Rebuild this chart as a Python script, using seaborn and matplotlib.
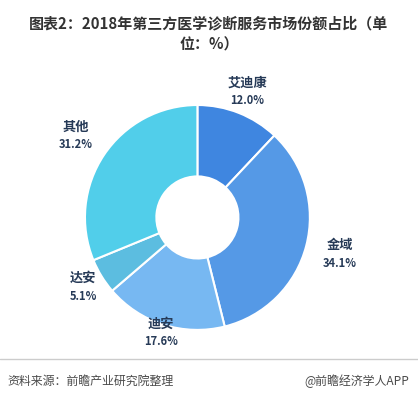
import numpy as np
import matplotlib.pyplot as plt
import seaborn as sns
from matplotlib.lines import Line2D

# --- datos ---
companias = ['艾迪康', '金域', '迪安', '达安', '其他']
cuota = [12.0, 34.1, 17.6, 5.1, 31.2]
colores = ['#3f86e0', '#5599e6', '#77b8f2', '#5cbde0', '#51ceea']
# distancia radial de cada etiqueta (relativa al radio exterior)
dist_etiqueta = [1.20, 1.31, 1.08, 1.19, 1.30]

sns.set_theme(style='white')
plt.rcParams['font.family'] = ['Noto Sans CJK SC', 'DejaVu Sans']

fig = plt.figure(figsize=(4.18, 3.99), dpi=100)
ax = fig.add_axes([0.0688, 0.032, 0.807, 0.846])

wedges, _ = ax.pie(cuota, colors=sns.color_palette(colores), startangle=90,
                   counterclock=False, radius=1.0,
                   wedgeprops=dict(width=0.635, edgecolor='white', linewidth=1.5))
ax.set_xlim(-1.5, 1.5)
ax.set_ylim(-1.5, 1.5)
ax.set_aspect('equal')
ax.axis('off')

color_txt = '#263a57'
for w, nombre, val, d in zip(wedges, companias, cuota, dist_etiqueta):
    ang = np.deg2rad((w.theta1 + w.theta2) / 2)
    x, y = d * np.cos(ang), d * np.sin(ang)
    ax.text(x, y + 0.02, nombre, ha='center', va='bottom', fontsize=9.5,
            fontweight='bold', color=color_txt)
    ax.text(x, y - 0.02, f'{val:.1f}%', ha='center', va='top', fontsize=8,
            fontweight='bold', color=color_txt)

fig.text(0.5, 1 - 34 / 399, '图表2：2018年第三方医学诊断服务市场份额占比（单\n位：%）',
         ha='center', va='center', fontsize=10.8, fontweight='bold',
         color='#333333', linespacing=1.45)

fig.add_artist(Line2D([0, 1], [1 - 359 / 399] * 2, color='#cccccc', lw=1))
fig.text(0.018, 1 - 381 / 399, '资料来源：前瞻产业研究院整理', ha='left', va='center',
         fontsize=8.6, color='#4a4a4a', style='italic')
fig.text(0.978, 1 - 381 / 399, '@前瞻经济学人APP', ha='right', va='center',
         fontsize=8.6, color='#4a4a4a')

fig.savefig('out.png', dpi=100)
